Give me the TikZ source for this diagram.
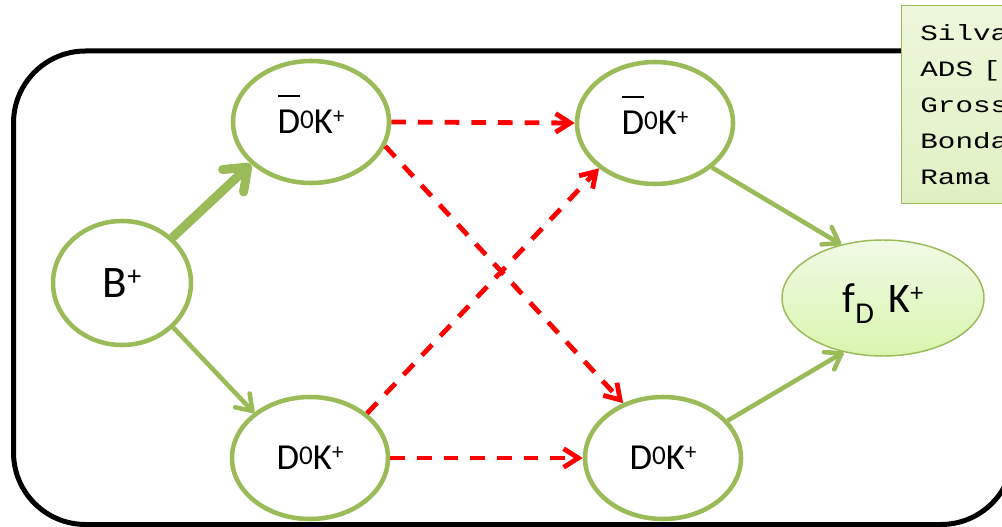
\documentclass[tikz,border=0pt]{standalone}
\usepackage{graphicx}
\usepackage{fontspec}
\setmainfont{Carlito}
\newfontfamily\monofont{Liberation Mono}
\usetikzlibrary{arrows.meta,shapes.geometric}
\definecolor{grn}{HTML}{9BBB59}
\definecolor{fdtop}{HTML}{F1FAE6}
\definecolor{fdbot}{HTML}{D9F5AE}
\definecolor{boxtop}{HTML}{EEF7DC}
\definecolor{boxbot}{HTML}{E0F0C2}
\definecolor{rd}{HTML}{FF0000}
\newcommand\upo[1]{\raisebox{0.14em}{\scalebox{0.74}{#1}}}
\newcommand\upp{\raisebox{0.27em}{\scalebox{0.62}{+}}}
\newcommand\dnD{\raisebox{-0.27em}{\scalebox{0.72}{D}}}
\newcommand\Dbar{\ooalign{D\cr\hidewidth\smash{\rule[1.0em]{0.6em}{0.06em}}\hidewidth\cr}}
\newcommand\wide[1]{\scalebox{1.33}[1]{#1}}
\begin{document}
\begin{tikzpicture}[x=0.75pt,y=-0.75pt,
  state/.style={ellipse, draw=grn, line width=3.4pt, fill=white, inner sep=0pt,
    minimum width=117pt, minimum height=91.5pt, font=\fontsize{27.5}{30}\selectfont},
  fdnode/.style={ellipse, draw=grn, line width=1.1pt, top color=fdtop, bottom color=fdbot,
    inner sep=0pt, minimum width=151.5pt, minimum height=87pt, text depth=0pt,
    font=\fontsize{31.5}{34}\selectfont},
  garrow/.style={draw=grn, line width=3.4pt, -{Straight Barb[length=11pt,width=15pt,round]}},
  gthick/.style={draw=grn, line width=6.75pt, -{Straight Barb[length=15pt,width=23pt,round]}},
  rarrow/.style={draw=rd, line width=3.6pt, dash pattern=on 11pt off 9pt,
    -{Straight Barb[length=11pt,width=14pt]}},
  refbox/.style={draw=grn, line width=1.1pt, top color=boxtop, bottom color=boxbot,
    inner xsep=14pt, inner ysep=0pt, text width=100pt, align=left,
    font=\monofont\fontsize{16.5}{27}\selectfont}]
\useasboundingbox (0,0) rectangle (1002,527);
\clip (0,0) rectangle (1002,527);
\draw[line width=3.75pt, rounded corners=54pt] (13.5,51) rectangle (1013,524.5);
\node[refbox, anchor=north west, minimum height=148.5pt] (refs) at (901,5)
  {\wide{Silva}\\\wide{ADS [}\\\wide{Gross}\\\wide{Bonda}\\\wide{Rama}};
\node[state, minimum width=103.5pt, minimum height=93pt, font=\fontsize{33.8}{38}\selectfont] (B) at (122,283) {B\upp};
\node[state] (tl) at (311,122) {\Dbar\upo{0}K\upp};
\node[state] (tr) at (655,123) {\Dbar\upo{0}K\upp};
\node[state] (bl) at (310,458) {D\upo{0}K\upp};
\node[state] (br) at (663,458) {D\upo{0}K\upp};
\node[fdnode] (fd) at (883,298) {f\dnD\hspace{0.35em}K\upp};
\draw[gthick] (B.42) -- (tl.215);
\draw[garrow] (B.-41) -- (bl.141);
\draw[garrow] (tr.-38) -- (fd.128);
\draw[garrow] (br.30) -- (fd.234);
\draw[rarrow] (tl.east) -- (tr.west);
\draw[rarrow] (bl.east) -- (br.west);
\draw[rarrow] (tl.-18) -- (br.126);
\draw[rarrow] (bl.38) -- (tr.219);
\end{tikzpicture}
\end{document}
